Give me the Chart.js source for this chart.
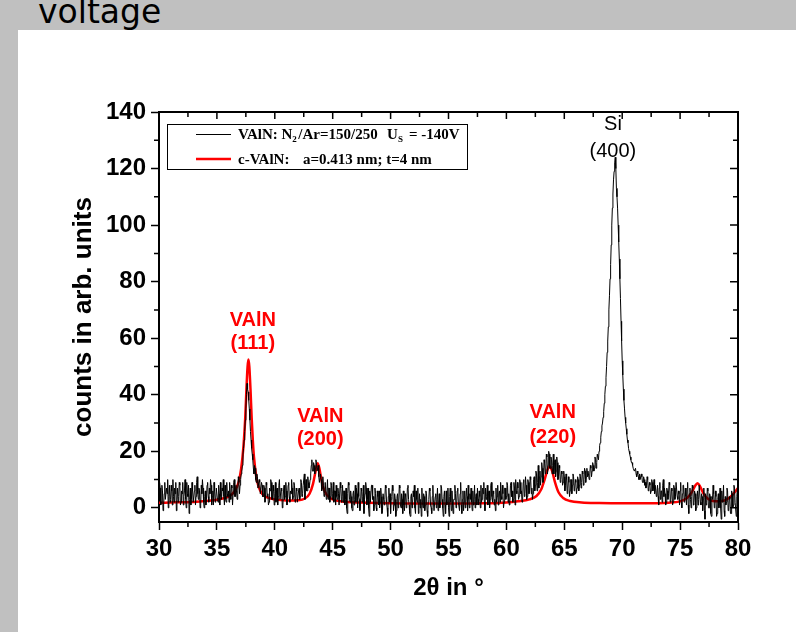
<!DOCTYPE html>
<html>
<head>
<meta charset="utf-8">
<script src="https://cdn.jsdelivr.net/npm/chart.js@4.4.1/dist/chart.umd.min.js"></script>
<style>
html, body { margin: 0; padding: 0; width: 796px; height: 632px; overflow: hidden; background: #c0c0c0; }
#panel { position: absolute; left: 18px; top: 30px; right: 0; bottom: 0; background: #fff; }
#head { position: absolute; left: 38px; top: -5px; font: 33px/33px "DejaVu Sans", sans-serif; color: #000; }
#xrd { position: absolute; left: 0; top: 0; }
</style>
</head>
<body>
<div id="panel"></div>
<div id="head">voltage</div>
<canvas id="xrd" width="796" height="632"></canvas>
<script>
// measured pattern, one reading every 0.05 deg from 30 to 80 (one row per degree)
var scanStart = 30;
var scanStep = 0.05;
var measuredCounts = [
  4, 9, 7, 1, 2, 8, 6, -1, 1, 5, 9, 3, 3, 7, 5, 10, 0, 4, 8, 2,
  3, 8, 6, 1, 10, 4, 2, 7, 5, 9, -1, 3, 7, 2, 4, 9, 8, 1, 2, 6,
  5, 9, 1, 4, 6, 10, 3, 0, 9, 5, 4, 8, -2, 3, 7, 1, 3, 9, 6, 2,
  2, 6, 8, 1, 4, 9, 11, 5, 3, 7, 6, 0, 1, 8, 5, 10, 7, 2, 0, 4,
  6, 1, 3, 8, 9, 4, 2, 7, 5, 10, 8, 1, 4, 6, 1, 9, 6, 2, 3, 7,
  7, 3, 2, 8, 5, 1, 9, 4, 3, 7, 6, 10, 4, 1, 8, 3, 2, 9, 5, 4,
  6, 2, 9, 5, 3, 8, 7, 1, 5, 9, 10, 4, 4, 8, 8, 3, 6, 11, 9, 5,
  8, 10, 12, 13, 15, 19, 21, 24, 27, 31, 35, 40, 44, 42, 41, 38, 35, 31, 27, 24,
  21, 19, 17, 14, 12, 15, 14, 10, 9, 12, 11, 7, 7, 10, 9, 5, 5, 9, 8, 4,
  4, 8, 7, 2, 3, 9, 8, 4, 5, 1, 2, 7, 6, 10, 9, 3, 3, 8, 6, 1,
  5, 9, 2, 6, 7, 1, 4, 8, 10, 3, 3, 7, 6, 0, 1, 6, 8, 3, 4, 9,
  6, 1, 3, 8, 9, 4, 2, 6, 5, 10, 7, 3, 4, 9, 8, 2, 3, 7, 6, 2,
  2, 6, 7, 3, 4, 10, 9, 4, 5, 8, 8, 12, 3, 7, 10, 6, 6, 11, 9, 7,
  8, 10, 12, 15, 17, 13, 13, 16, 15, 12, 14, 17, 16, 13, 13, 15, 11, 9, 9, 12,
  10, 6, 7, 11, 8, 4, 5, 9, 9, 3, 6, 10, 3, 7, 7, 2, 4, 9, 8, 3,
  5, 9, 2, 6, 6, 1, 8, 4, 3, 7, 5, 1, 1, 9, 7, 2, 4, 8, 2, 6,
  6, 1, 3, 7, 0, -2, 5, 9, 8, 3, 2, 6, 4, 0, -1, 5, 6, 1, 3, 8,
  2, 7, 5, 0, 9, 4, 3, -1, 1, 7, 6, 2, 4, 8, -2, 3, 5, 9, 7, 1,
  3, 7, 0, -3, 6, 2, 2, 8, 8, 3, 4, -1, 1, 7, 5, 0, -1, 6, 4, 1,
  6, 0, 2, 7, 4, -2, -1, 5, 5, 1, 3, 8, 7, 2, 0, -3, 4, 7, 2, 5,
  -2, 3, 4, 8, 6, -1, 1, 5, 3, -3, -1, 4, 5, 0, 2, 8, 7, 1, 0, 5,
  3, -2, 6, 1, -1, 5, 4, 0, 2, 7, 8, 3, 1, -2, -3, 4, 5, 0, 2, 6,
  4, 8, 0, -2, 6, 3, 2, 7, -2, 1, 5, 0, 3, -3, 7, 2, 0, 5, 4, -1,
  1, 6, 5, -1, -3, 2, 3, 7, 6, 1, 0, -2, 4, 8, 2, -1, -1, 4, 5, 0,
  3, 7, -1, 2, 5, 0, 2, 8, 7, 3, 0, -3, 4, 6, 1, -2, 6, 1, 2, 7,
  0, -3, 4, 7, 2, -1, 6, 1, -2, 3, 3, 8, 5, 0, 1, 6, 7, 2, 2, -1,
  5, 9, 1, -2, 3, 6, -1, 2, 6, 0, 2, 7, 4, -1, 8, 3, 0, 5, 3, 7,
  2, -1, 6, 1, 3, 8, 0, 4, 5, 1, 7, 3, 1, 6, 4, 0, 8, 2, 3, 7,
  5, 9, 2, -1, 7, 3, 4, 8, 1, 5, 6, 0, 3, 8, 9, 4, 2, 6, 5, 1,
  3, -1, 7, 2, 4, 8, 1, 5, 6, 2, 9, 4, 3, 8, 5, 0, 2, 7, 7, 3,
  4, 9, 8, 2, 5, 1, 2, 8, 9, 4, 6, 2, 3, 9, 7, 1, 10, 6, 5, 9,
  7, 3, 4, 10, 9, 5, 6, 2, 3, 9, 10, 4, 5, 11, 8, 3, 4, 10, 9, 5,
  6, 11, 10, 5, 7, 3, 5, 10, 11, 6, 8, 13, 12, 6, 9, 15, 7, 11, 13, 8,
  11, 16, 14, 9, 10, 17, 16, 12, 13, 19, 18, 12, 15, 20, 19, 14, 14, 18, 17, 12,
  15, 19, 12, 16, 17, 11, 13, 18, 16, 10, 11, 15, 14, 9, 10, 13, 12, 8, 9, 13,
  11, 6, 8, 12, 10, 5, 7, 11, 9, 4, 6, 10, 10, 5, 8, 12, 11, 6, 7, 10,
  9, 5, 7, 11, 10, 6, 8, 12, 11, 7, 9, 13, 12, 8, 10, 14, 13, 9, 11, 14,
  11, 13, 13, 10, 12, 15, 14, 11, 13, 16, 15, 13, 14, 18, 17, 14, 16, 19, 19, 17,
  20, 22, 23, 25, 27, 29, 30, 32, 34, 37, 40, 43, 46, 50, 55, 59, 64, 70, 75, 81,
  86, 93, 100, 106, 111, 116, 119, 122, 124, 120, 113, 110, 106, 100, 94, 88, 81, 74, 66, 59,
  52, 47, 42, 38, 35, 32, 30, 28, 26, 24, 23, 21, 20, 19, 18, 17, 16, 16, 15, 14,
  14, 13, 13, 14, 12, 11, 13, 12, 11, 10, 12, 10, 10, 12, 11, 9, 9, 11, 10, 8,
  9, 7, 8, 11, 10, 6, 7, 9, 8, 5, 6, 10, 9, 6, 7, 10, 5, 8, 8, 4,
  6, 8, 4, 1, 7, 9, 3, 6, 6, 2, 8, 10, 4, 7, 5, 1, 2, 7, 6, 3,
  5, 9, 8, 2, 3, 7, 6, 1, 2, 8, 7, 3, 4, 9, 9, 4, 3, 6, 5, 1,
  6, 9, 2, 0, 5, 8, 8, 2, 3, 7, 4, 1, 7, 9, 1, -2, 5, 7, 3, 0,
  4, 8, 7, 1, 2, 6, 5, -1, 0, 4, 6, 1, 3, 8, 8, 2, 1, 5, 4, -1,
  3, 7, -1, -4, 5, 1, 2, 7, 6, 0, 0, 5, 4, -2, -3, 4, 3, 8, 5, 0,
  1, 6, 4, -3, -2, 3, 5, 0, 2, 7, 0, -4, 6, 2, 3, 8, -1, -3, 4, 1,
  2, 7, 6, -1, 0, 4, 3, -2, -2, 6, 5, 0, 1, 8, 7, 2, 2, -3, 4, 7,
  3
];

// simulated c-VAlN pattern
var fitAngles = [30, 31, 32, 33, 34, 35, 35.5, 36, 36.4, 36.7, 36.9, 37.1, 37.3, 37.45, 37.55, 37.65, 37.72, 37.8, 37.9, 38.0, 38.1, 38.2, 38.4, 38.6, 38.9, 39.3, 40, 41, 42, 42.6, 43.0, 43.3, 43.5, 43.7, 43.85, 44.0, 44.2, 44.5, 45, 46, 48, 50, 55, 58, 60, 61, 62, 62.6, 63.0, 63.3, 63.55, 63.75, 63.95, 64.2, 64.5, 64.9, 65.5, 66.5, 68, 70, 72, 74, 75, 75.6, 76.0, 76.3, 76.5, 76.7, 77.0, 77.4, 78, 78.6, 79.1, 79.5, 80];
var fitCounts = [1.8, 1.9, 2.0, 2.1, 2.4, 2.9, 3.3, 4.0, 5.2, 7.2, 9.5, 14, 22, 32, 42, 50, 52.5, 50, 42, 32, 24, 18, 11, 7.5, 5, 3.8, 3.0, 2.6, 2.7, 3.3, 5, 8.5, 12.5, 15.8, 14, 10.5, 7, 4.5, 3.0, 2.2, 1.8, 1.6, 1.5, 1.6, 1.9, 2.3, 3.0, 4.2, 6.5, 10, 13.5, 14.6, 13, 9, 5.5, 3.5, 2.4, 1.9, 1.7, 1.6, 1.6, 1.8, 2.3, 3.5, 5.5, 7.8, 8.7, 7.8, 5.2, 3.2, 2.3, 2.4, 3.2, 4.5, 7];

var xTicks = [30, 35, 40, 45, 50, 55, 60, 65, 70, 75, 80];
var xMinorTicks = [32.5, 37.5, 42.5, 47.5, 52.5, 57.5, 62.5, 67.5, 72.5, 77.5];
var yTicks = [0, 20, 40, 60, 80, 100, 120, 140];
var yMinorTicks = [10, 30, 50, 70, 90, 110, 130];

var peakNames = [['VAlN', '(111)'], ['VAlN', '(200)'], ['VAlN', '(220)'], ['Si', '(400)']];
var seriesNames = ['VAlN: N2/Ar=150/250   Us = -140V', 'c-VAlN:   a=0.413 nm; t=4 nm'];

var measuredPoints = measuredCounts.map(function (v, i) {
  return { x: scanStart + i * scanStep, y: v };
});
var fitPoints = fitAngles.map(function (a, i) {
  return { x: a, y: fitCounts[i] };
});

var sans = '"Liberation Sans", Arial, sans-serif';
var serif = '"Liberation Serif", "Times New Roman", serif';

// top / right frame, minor ticks, peak names and the boxed legend
var plotDecor = {
  id: 'plotDecor',
  afterDatasetsDraw: function (chart) {
    var c = chart.ctx, a = chart.chartArea;
    var xs = chart.scales.x, ys = chart.scales.y;
    c.save();
    c.strokeStyle = '#000';
    c.lineWidth = 2;
    c.beginPath();
    c.moveTo(a.left - 1, a.top); c.lineTo(a.right, a.top); c.lineTo(a.right, a.bottom + 1);
    c.stroke();

    c.lineWidth = 1.5;
    c.beginPath();
    xTicks.forEach(function (v) {
      var p = xs.getPixelForValue(v);
      c.moveTo(p, a.top); c.lineTo(p, a.top + 7);
    });
    xMinorTicks.forEach(function (v) {
      var p = xs.getPixelForValue(v);
      c.moveTo(p, a.top); c.lineTo(p, a.top + 5);
      c.moveTo(p, a.bottom); c.lineTo(p, a.bottom + 5);
    });
    yTicks.forEach(function (v) {
      var p = ys.getPixelForValue(v);
      c.moveTo(a.right, p); c.lineTo(a.right - 8, p);
    });
    yMinorTicks.forEach(function (v) {
      var p = ys.getPixelForValue(v);
      c.moveTo(a.right, p); c.lineTo(a.right - 5, p);
      c.moveTo(a.left, p); c.lineTo(a.left - 5, p);
    });
    c.stroke();

    var opts = chart.options.plugins.plotDecor;
    c.textAlign = 'center';
    c.textBaseline = 'middle';
    opts.peaks.forEach(function (pk, i) {
      var px = xs.getPixelForValue(pk.x), py = ys.getPixelForValue(pk.y);
      c.fillStyle = pk.color;
      c.font = pk.font;
      peakNames[i].forEach(function (line, j) {
        c.fillText(line, px, py + j * pk.gap);
      });
    });

    // legend box
    var bx = a.left + 8, by = a.top + 12;
    c.fillStyle = '#fff';
    c.fillRect(bx, by, 300, 45);
    c.lineWidth = 1;
    c.strokeStyle = '#000';
    c.strokeRect(bx + 0.5, by + 0.5, 300, 45);
    c.beginPath();
    c.moveTo(bx + 29, by + 10.5); c.lineTo(bx + 64, by + 10.5);
    c.stroke();
    c.strokeStyle = '#ff0000';
    c.lineWidth = 2.5;
    c.beginPath();
    c.moveTo(bx + 29, by + 35); c.lineTo(bx + 64, by + 35);
    c.stroke();

    c.fillStyle = '#000';
    c.textAlign = 'left';
    c.textBaseline = 'alphabetic';
    var big = 'bold 15px ' + serif, small = 'bold 9px ' + serif;
    var row1 = by + 15, row2 = by + 40;
    c.font = big;
    c.fillText('VAlN: N', bx + 71, row1);
    var w = c.measureText('VAlN: N').width;
    c.font = small;
    c.fillText('2', bx + 71 + w, row1 + 3);
    c.font = big;
    c.fillText('/Ar=150/250', bx + 77 + w, row1);
    c.fillText('U', bx + 220, row1);
    c.font = small;
    c.fillText('S', bx + 231, row1 + 3);
    c.font = big;
    c.fillText('= -140V', bx + 242, row1);
    c.fillText('c-VAlN:', bx + 71, row2);
    c.fillText('a=0.413 nm; t=4 nm', bx + 136, row2);
    c.restore();
  }
};

var tickFont = { family: sans, size: 24, weight: 'bold' };

new Chart(document.getElementById('xrd'), {
  type: 'line',
  data: {
    datasets: [{
      label: seriesNames[0],
      data: measuredPoints,
      borderColor: '#000',
      borderWidth: 1,
      pointRadius: 0,
      tension: 0
    }, {
      label: seriesNames[1],
      data: fitPoints,
      borderColor: '#ff0000',
      borderWidth: 2.5,
      pointRadius: 0,
      cubicInterpolationMode: 'monotone'
    }]
  },
  options: {
    responsive: false,
    animation: false,
    devicePixelRatio: 1,
    layout: { padding: { left: 64, top: 112, right: 58, bottom: 25 } },
    plugins: {
      legend: { display: false },
      tooltip: { enabled: false },
      plotDecor: {
        peaks: [
          { x: 38.1, y: 66.4, gap: 23, color: '#ff0000', font: 'bold 20px ' + sans },
          { x: 43.93, y: 32.3, gap: 23, color: '#ff0000', font: 'bold 20px ' + sans },
          { x: 64.0, y: 33.7, gap: 25, color: '#ff0000', font: 'bold 20px ' + sans },
          { x: 69.2, y: 135.7, gap: 27, color: '#000', font: '20px ' + sans }
        ]
      }
    },
    scales: {
      x: {
        type: 'linear',
        min: 30,
        max: 80,
        afterBuildTicks: function (s) { s.ticks = xTicks.map(function (v) { return { value: v }; }); },
        afterFit: function (s) { s.height = 85; s.paddingLeft = 0; s.paddingRight = 0; },
        ticks: { color: '#000', font: tickFont, padding: 5, maxRotation: 0, autoSkip: false },
        grid: { drawOnChartArea: false, tickLength: 8, tickWidth: 1.5, tickColor: '#000' },
        border: { display: true, width: 2, color: '#000' },
        title: { display: true, text: '2θ in °', color: '#000', font: { family: sans, size: 24, weight: 'bold' } }
      },
      y: {
        type: 'linear',
        min: -5,
        max: 140,
        afterBuildTicks: function (s) { s.ticks = yTicks.map(function (v) { return { value: v }; }); },
        afterFit: function (s) { s.width = 95; s.paddingTop = 0; s.paddingBottom = 0; },
        ticks: { color: '#000', font: tickFont, padding: 5 },
        grid: { drawOnChartArea: false, tickLength: 8, tickWidth: 1.5, tickColor: '#000' },
        border: { display: true, width: 2, color: '#000' },
        title: { display: true, text: 'counts in arb. units', color: '#000', font: { family: sans, size: 26, weight: 'bold' } }
      }
    }
  },
  plugins: [plotDecor]
});
</script>
</body>
</html>
